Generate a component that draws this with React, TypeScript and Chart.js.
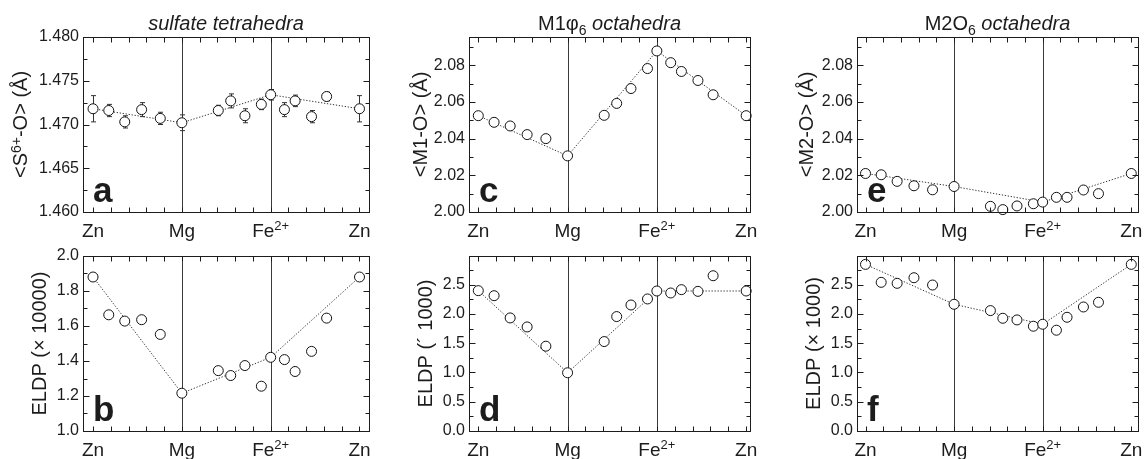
import React, { useEffect, useRef } from "react";
import { Chart, registerables } from "chart.js";
Chart.register(...registerables);

const FONT = "'Liberation Sans', Arial, Helvetica, sans-serif";
const INK = "#1c1c1c";

// ---------- data ----------
const composition = [0, 0.177, 0.357, 0.547, 0.757, 1, 1.41, 1.55, 1.71, 1.895, 2, 2.155, 2.275, 2.46, 2.63, 3];
const endMemberIndex = [0, 5, 10, 15];
const xTickValues = [0, 1, 2, 3];
const xTickNames = ["Zn", "Mg", "Fe", "Zn"];
const xTickCharges = ["", "", "2+", ""];

const sulfateBond = [1.4718, 1.4716, 1.4703, 1.4717, 1.4707, 1.4702, 1.4716, 1.4727, 1.471, 1.4723, 1.4734, 1.4717, 1.4727, 1.4709, 1.4732, 1.4718];
const sulfateBondErr = [0.0015, 0.0007, 0.0007, 0.0008, 0.0007, 0.0009, 0.0006, 0.0008, 0.0008, 0.0006, 0.0006, 0.0008, 0.00066, 0.0007, 0.0005, 0.0015];
const sulfateEldp = [1.88, 1.664, 1.628, 1.636, 1.552, 1.216, 1.345, 1.317, 1.374, 1.256, 1.421, 1.408, 1.34, 1.455, 1.645, 1.88];
const m1Bond = [2.0525, 2.0489, 2.0469, 2.0422, 2.04, 2.0306, 2.0527, 2.0592, 2.0673, 2.0782, 2.0878, 2.0814, 2.0766, 2.0717, 2.0639, 2.0525];
const m1Eldp = [2.398, 2.312, 1.932, 1.778, 1.449, 0.995, 1.528, 1.955, 2.153, 2.256, 2.392, 2.358, 2.415, 2.386, 2.653, 2.392];
const m2Bond = [2.021, 2.0203, 2.0167, 2.0143, 2.0121, 2.0139, 2.0031, 2.0013, 2.0033, 2.0045, 2.0054, 2.008, 2.008, 2.012, 2.01, 2.021];
const m2Eldp = [2.847, 2.54, 2.523, 2.619, 2.494, 2.165, 2.057, 1.926, 1.898, 1.79, 1.824, 1.722, 1.943, 2.119, 2.199, 2.847];

// ---------- layout / styles ----------
type Part = { t: string; s?: "i" | "sup" | "sub" };
interface PanelCfg {
  id: string;
  letter: string;
  values: number[];
  errors?: number[];
  yMin: number;
  yMax: number;
  yStep: number;
  yMinor: number;
  decimals: number;
  title?: Part[];
  yTitle: Part[];
  box: { left: number; top: number; width: number; height: number };
  plot: { left: number; top: number; right: number; bottom: number };
  xMin: number;
  xMax: number;
  yTitleOffset: number;
}

const COL = [
  { boxLeft: 0, boxWidth: 375, left: 83, right: 369, xMin: -0.113, xMax: 3.107 },
  { boxLeft: 375, boxWidth: 385, left: 469, right: 750, xMin: -0.104, xMax: 3.043 },
  { boxLeft: 760, boxWidth: 384, left: 857, right: 1140, xMin: -0.096, xMax: 3.076 },
];
const ROW = [
  { boxTop: 0, boxHeight: 250, top: 37, bottom: 212 },
  { boxTop: 240, boxHeight: 219, top: 256, bottom: 431 },
];

function geom(c: number, r: number) {
  const cc = COL[c];
  const rr = ROW[r];
  return {
    box: { left: cc.boxLeft, top: rr.boxTop, width: cc.boxWidth, height: rr.boxHeight },
    plot: { left: cc.left, top: rr.top, right: cc.right, bottom: rr.bottom },
    xMin: cc.xMin,
    xMax: cc.xMax,
  };
}

const panels: PanelCfg[] = [
  {
    id: "a", letter: "a", values: sulfateBond, errors: sulfateBondErr,
    yMin: 1.46, yMax: 1.48, yStep: 0.005, yMinor: 0.0025, decimals: 3,
    title: [{ t: "sulfate tetrahedra", s: "i" }],
    yTitle: [{ t: "<S" }, { t: "6+", s: "sup" }, { t: "-O> (Å)" }],
    yTitleOffset: 56, ...geom(0, 0),
  },
  {
    id: "b", letter: "b", values: sulfateEldp,
    yMin: 1.0, yMax: 2.0, yStep: 0.2, yMinor: 0.1, decimals: 1,
    yTitle: [{ t: "ELDP (× 10000)" }],
    yTitleOffset: 37, ...geom(0, 1),
  },
  {
    id: "c", letter: "c", values: m1Bond,
    yMin: 2.0, yMax: 2.0954, yStep: 0.02, yMinor: 0.01, decimals: 2,
    title: [{ t: "M1φ" }, { t: "6", s: "sub" }, { t: " octahedra", s: "i" }],
    yTitle: [{ t: "<M1-O> (Å)" }],
    yTitleOffset: 42, ...geom(1, 0),
  },
  {
    id: "d", letter: "d", values: m1Eldp,
    yMin: 0, yMax: 2.99, yStep: 0.5, yMinor: 0.25, decimals: 1,
    yTitle: [{ t: "ELDP (´ 1000)" }],
    yTitleOffset: 37, ...geom(1, 1),
  },
  {
    id: "e", letter: "e", values: m2Bond,
    yMin: 2.0, yMax: 2.0954, yStep: 0.02, yMinor: 0.01, decimals: 2,
    title: [{ t: "M2O" }, { t: "6", s: "sub" }, { t: " octahedra", s: "i" }],
    yTitle: [{ t: "<M2-O> (Å)" }],
    yTitleOffset: 44, ...geom(2, 0),
  },
  {
    id: "f", letter: "f", values: m2Eldp,
    yMin: 0, yMax: 2.99, yStep: 0.5, yMinor: 0.25, decimals: 1,
    yTitle: [{ t: "ELDP (× 1000)" }],
    yTitleOffset: 37, ...geom(2, 1),
  },
];

// ---------- drawing helpers ----------
function partFont(p: Part, size: number) {
  const small = p.s === "sup" || p.s === "sub";
  const sz = small ? Math.round(size * 0.68) : size;
  return `${p.s === "i" ? "italic " : ""}${sz}px ${FONT}`;
}

function drawRich(ctx: CanvasRenderingContext2D, parts: Part[], x: number, y: number, size: number, align: "center" | "left") {
  ctx.save();
  ctx.textBaseline = "alphabetic";
  ctx.textAlign = "left";
  ctx.fillStyle = INK;
  let total = 0;
  const widths = parts.map((p) => {
    ctx.font = partFont(p, size);
    const w = ctx.measureText(p.t).width;
    total += w;
    return w;
  });
  let cx = align === "center" ? x - total / 2 : x;
  parts.forEach((p, i) => {
    ctx.font = partFont(p, size);
    const dy = p.s === "sup" ? -size * 0.32 : p.s === "sub" ? size * 0.24 : 0;
    ctx.fillText(p.t, cx, y + dy);
    cx += widths[i];
  });
  ctx.restore();
}

const crisp = (v: number) => Math.round(v) + 0.5;

function steps(min: number, max: number, step: number) {
  const out: number[] = [];
  const n0 = Math.ceil(min / step - 1e-6);
  const n1 = Math.floor(max / step + 1e-6);
  for (let n = n0; n <= n1; n++) out.push(n * step);
  return out;
}

function makePlugin(cfg: PanelCfg) {
  return {
    id: "panel-" + cfg.id,
    beforeDatasetsDraw(chart: any) {
      const { ctx, chartArea: a, scales } = chart;
      const x = scales.x;
      const y = scales.y;
      ctx.save();
      ctx.strokeStyle = "#3a3a3a";
      ctx.lineWidth = 1;
      xTickValues.slice(1, -1).forEach((v) => {
        const px = crisp(x.getPixelForValue(v));
        ctx.beginPath();
        ctx.moveTo(px, a.top);
        ctx.lineTo(px, a.bottom);
        ctx.stroke();
      });
      if (cfg.errors) {
        ctx.strokeStyle = "#333";
        cfg.errors.forEach((e, i) => {
          const px = crisp(x.getPixelForValue(composition[i]));
          const y1 = y.getPixelForValue(cfg.values[i] + e);
          const y2 = y.getPixelForValue(cfg.values[i] - e);
          ctx.beginPath();
          ctx.moveTo(px, y1);
          ctx.lineTo(px, y2);
          ctx.moveTo(px - 2.5, y1);
          ctx.lineTo(px + 2.5, y1);
          ctx.moveTo(px - 2.5, y2);
          ctx.lineTo(px + 2.5, y2);
          ctx.stroke();
        });
      }
      ctx.restore();
    },
    afterDraw(chart: any) {
      const { ctx, chartArea: a, scales } = chart;
      const x = scales.x;
      const y = scales.y;
      const L = crisp(a.left), R = crisp(a.right), T = crisp(a.top), B = crisp(a.bottom);
      ctx.save();
      ctx.strokeStyle = INK;
      ctx.lineWidth = 1;
      ctx.strokeRect(L, T, R - L, B - T);
      ctx.beginPath();
      // x ticks (top & bottom, inward)
      steps(cfg.xMin, cfg.xMax, 0.2).forEach((v) => {
        const px = crisp(x.getPixelForValue(v));
        ctx.moveTo(px, B);
        ctx.lineTo(px, B - 5);
        ctx.moveTo(px, T);
        ctx.lineTo(px, T + 5);
      });
      // y ticks (left & right, inward)
      const ratio = Math.round(cfg.yStep / cfg.yMinor);
      steps(cfg.yMin, cfg.yMax, cfg.yMinor).forEach((v) => {
        const n = Math.round(v / cfg.yMinor);
        const len = n % ratio === 0 ? 6 : 4;
        const py = crisp(y.getPixelForValue(v));
        ctx.moveTo(L, py);
        ctx.lineTo(L + len, py);
        ctx.moveTo(R, py);
        ctx.lineTo(R - len, py);
      });
      ctx.stroke();
      ctx.restore();

      // x category labels
      xTickValues.forEach((v, i) => {
        const parts: Part[] = [{ t: xTickNames[i] }];
        if (xTickCharges[i]) parts.push({ t: xTickCharges[i], s: "sup" });
        drawRich(ctx, parts, x.getPixelForValue(v), a.bottom + 24.5, 19, "center");
      });

      // rotated y title
      ctx.save();
      ctx.translate(a.left - cfg.yTitleOffset, (a.top + a.bottom) / 2);
      ctx.rotate(-Math.PI / 2);
      drawRich(ctx, cfg.yTitle, 0, 0, 20, "center");
      ctx.restore();

      // panel title
      if (cfg.title) drawRich(ctx, cfg.title, (a.left + a.right) / 2, a.top - 7, 20, "center");

      // panel letter
      ctx.save();
      ctx.fillStyle = INK;
      ctx.font = `bold 35px ${FONT}`;
      ctx.textAlign = "left";
      ctx.textBaseline = "alphabetic";
      ctx.fillText(cfg.letter, a.left + 10, a.bottom - 10);
      ctx.restore();
    },
  };
}

function Panel({ cfg }: { cfg: PanelCfg }) {
  const ref = useRef<HTMLCanvasElement>(null);
  useEffect(() => {
    const canvas = ref.current;
    if (!canvas) return;
    const W = cfg.plot.left - cfg.box.left;
    const PR = cfg.box.left + cfg.box.width - cfg.plot.right;
    const PT = cfg.plot.top - cfg.box.top;
    const H = cfg.box.top + cfg.box.height - cfg.plot.bottom;
    const points = composition.map((c, i) => ({ x: c, y: cfg.values[i] }));
    const trend = endMemberIndex.map((i) => ({ x: composition[i], y: cfg.values[i] }));
    const chart = new Chart(canvas, {
      type: "scatter",
      data: {
        datasets: [
          {
            data: points,
            pointRadius: 5,
            pointBackgroundColor: "#ffffff",
            pointBorderColor: "#111111",
            pointBorderWidth: 1,
            showLine: false,
            clip: false,
            order: 0,
          },
          {
            data: trend,
            showLine: true,
            borderColor: "#333333",
            borderWidth: 1,
            borderDash: [1.3, 1.7],
            pointRadius: 0,
            order: 1,
          },
        ],
      } as any,
      options: {
        animation: false,
        responsive: false,
        maintainAspectRatio: false,
        events: [],
        layout: { padding: { left: 0, right: PR, top: PT, bottom: 0 } },
        plugins: { legend: { display: false }, tooltip: { enabled: false } },
        scales: {
          x: {
            type: "linear",
            min: cfg.xMin,
            max: cfg.xMax,
            afterFit: (s: any) => { s.height = H; },
            ticks: { display: false },
            grid: { display: false, drawTicks: false },
            border: { display: false },
          },
          y: {
            type: "linear",
            min: cfg.yMin,
            max: cfg.yMax,
            afterFit: (s: any) => { s.width = W; },
            ticks: {
              stepSize: cfg.yStep,
              includeBounds: false,
              padding: 4,
              color: INK,
              font: { family: FONT, size: 16 },
              callback: (v: any) => Number(v).toFixed(cfg.decimals),
            },
            grid: { display: false, drawTicks: false },
            border: { display: false },
          },
        },
      } as any,
      plugins: [makePlugin(cfg)],
    });
    return () => chart.destroy();
  }, [cfg]);
  return (
    <canvas
      ref={ref}
      width={cfg.box.width}
      height={cfg.box.height}
      style={{
        position: "absolute",
        left: cfg.box.left,
        top: cfg.box.top,
        width: cfg.box.width,
        height: cfg.box.height,
      }}
    />
  );
}

export default function App() {
  return (
    <div style={{ position: "absolute", left: 0, top: 0, width: 1144, height: 459, background: "#ffffff", overflow: "hidden" }}>
      {panels.map((p) => (
        <Panel key={p.id} cfg={p} />
      ))}
    </div>
  );
}
